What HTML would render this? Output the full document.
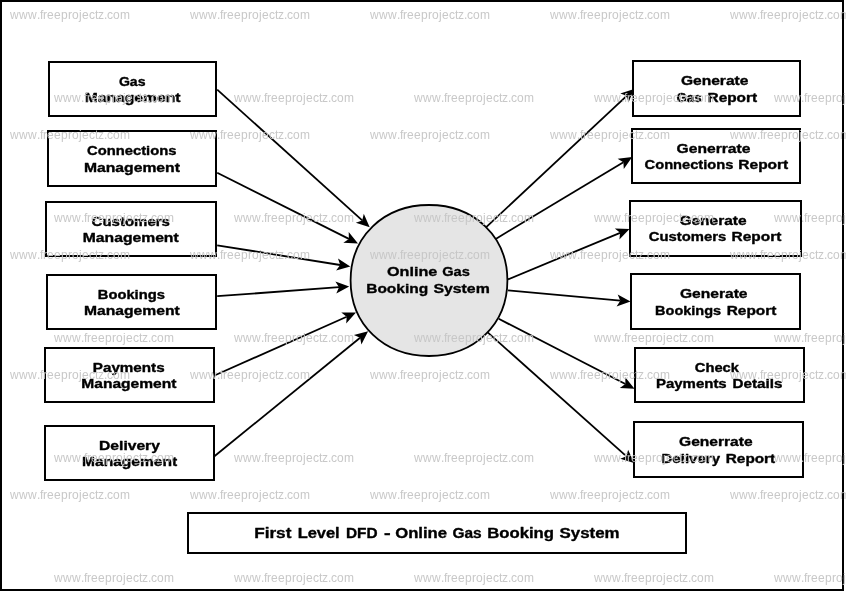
<!DOCTYPE html>
<html><head><meta charset="utf-8"><title>First Level DFD - Online Gas Booking System</title>
<style>html,body{margin:0;padding:0;background:#fff;}body{width:846px;height:593px;overflow:hidden;}svg{display:block;font-family:"Liberation Sans",sans-serif;}</style></head><body>
<svg width="846" height="593" viewBox="0 0 846 593">
<rect x="0" y="0" width="846" height="593" fill="#fff"/>
<rect x="1" y="1" width="842" height="589" fill="none" stroke="#000" stroke-width="2"/>
<rect x="49.0" y="62.0" width="167.0" height="54.0" fill="#fff" stroke="#000" stroke-width="2"/>
<rect x="48.0" y="131.0" width="168.0" height="55.0" fill="#fff" stroke="#000" stroke-width="2"/>
<rect x="46.0" y="202.0" width="170.0" height="54.0" fill="#fff" stroke="#000" stroke-width="2"/>
<rect x="47.0" y="275.0" width="169.0" height="54.0" fill="#fff" stroke="#000" stroke-width="2"/>
<rect x="45.0" y="348.0" width="169.0" height="54.0" fill="#fff" stroke="#000" stroke-width="2"/>
<rect x="45.0" y="426.0" width="169.0" height="54.0" fill="#fff" stroke="#000" stroke-width="2"/>
<rect x="633.0" y="61.0" width="167.0" height="55.0" fill="#fff" stroke="#000" stroke-width="2"/>
<rect x="632.0" y="129.0" width="168.0" height="54.0" fill="#fff" stroke="#000" stroke-width="2"/>
<rect x="630.0" y="201.0" width="171.0" height="55.0" fill="#fff" stroke="#000" stroke-width="2"/>
<rect x="631.0" y="274.0" width="169.0" height="55.0" fill="#fff" stroke="#000" stroke-width="2"/>
<rect x="635.0" y="348.0" width="169.0" height="54.0" fill="#fff" stroke="#000" stroke-width="2"/>
<rect x="634.0" y="422.0" width="169.0" height="55.0" fill="#fff" stroke="#000" stroke-width="2"/>
<rect x="188.0" y="513.0" width="498.0" height="40.0" fill="#fff" stroke="#000" stroke-width="2"/>
<line x1="217.2" y1="89.6" x2="362.2" y2="220.4" stroke="#000" stroke-width="1.8"/>
<polygon points="369.7,227.2 355.8,222.7 362.2,220.4 363.8,213.8" fill="#000"/>
<line x1="217.2" y1="172.8" x2="348.9" y2="238.9" stroke="#000" stroke-width="1.8"/>
<polygon points="358.0,243.5 343.3,242.8 348.9,238.9 348.7,232.1" fill="#000"/>
<line x1="217.2" y1="245.3" x2="340.2" y2="265.0" stroke="#000" stroke-width="1.8"/>
<polygon points="350.3,266.6 336.1,270.4 340.2,265.0 338.0,258.6" fill="#000"/>
<line x1="217.2" y1="296.2" x2="339.0" y2="287.2" stroke="#000" stroke-width="1.8"/>
<polygon points="349.2,286.5 336.3,293.5 339.0,287.2 335.4,281.5" fill="#000"/>
<line x1="215.0" y1="375.3" x2="346.7" y2="316.8" stroke="#000" stroke-width="1.8"/>
<polygon points="356.0,312.6 346.2,323.5 346.7,316.8 341.3,312.6" fill="#000"/>
<line x1="213.5" y1="457.0" x2="360.1" y2="337.7" stroke="#000" stroke-width="1.8"/>
<polygon points="368.1,331.3 361.4,344.4 360.1,337.7 353.9,335.1" fill="#000"/>
<line x1="486.2" y1="227.1" x2="626.7" y2="95.8" stroke="#000" stroke-width="1.8"/>
<polygon points="634.1,88.9 628.5,102.4 626.7,95.8 620.3,93.6" fill="#000"/>
<line x1="495.7" y1="238.9" x2="623.4" y2="162.2" stroke="#000" stroke-width="1.8"/>
<polygon points="632.2,156.9 623.8,168.9 623.4,162.2 617.6,158.7" fill="#000"/>
<line x1="508.0" y1="279.4" x2="620.1" y2="232.8" stroke="#000" stroke-width="1.8"/>
<polygon points="629.5,228.9 619.4,239.6 620.1,232.8 614.8,228.5" fill="#000"/>
<line x1="508.0" y1="290.4" x2="620.3" y2="300.7" stroke="#000" stroke-width="1.8"/>
<polygon points="630.5,301.6 616.6,306.4 620.3,300.7 617.7,294.4" fill="#000"/>
<line x1="498.7" y1="318.8" x2="625.4" y2="384.0" stroke="#000" stroke-width="1.8"/>
<polygon points="634.5,388.7 619.8,387.9 625.4,384.0 625.3,377.2" fill="#000"/>
<line x1="487.4" y1="332.2" x2="626.5" y2="456.3" stroke="#000" stroke-width="1.8"/>
<polygon points="634.1,463.1 620.2,458.7 626.5,456.3 628.1,449.7" fill="#000"/>
<path d="M507.40,280.50 C507.40,324.29 474.47,356.00 429.00,356.00 C383.53,356.00 350.60,324.29 350.60,280.50 C350.60,236.71 383.53,205.00 429.00,205.00 C474.47,205.00 507.40,236.71 507.40,280.50 Z" fill="#e5e5e5" stroke="#000" stroke-width="1.8"/>
<g filter="url(#n)" font-weight="bold" fill="#000" stroke="#000" stroke-width="0.35" stroke-linejoin="round">
<text x="118.9" y="85.6" font-size="12.0" textLength="26.6" lengthAdjust="spacingAndGlyphs">Gas</text>
<text x="84.7" y="101.8" font-size="12.0" textLength="95.9" lengthAdjust="spacingAndGlyphs">Management</text>
<text x="87.0" y="154.8" font-size="12.0" textLength="89.4" lengthAdjust="spacingAndGlyphs">Connections</text>
<text x="84.0" y="172.0" font-size="12.0" textLength="95.9" lengthAdjust="spacingAndGlyphs">Management</text>
<text x="91.6" y="226.3" font-size="12.0" textLength="78.3" lengthAdjust="spacingAndGlyphs">Customers</text>
<text x="82.8" y="242.1" font-size="12.0" textLength="95.9" lengthAdjust="spacingAndGlyphs">Management</text>
<text x="97.8" y="299.0" font-size="12.0" textLength="67.1" lengthAdjust="spacingAndGlyphs">Bookings</text>
<text x="84.0" y="315.0" font-size="12.0" textLength="95.7" lengthAdjust="spacingAndGlyphs">Management</text>
<text x="92.8" y="371.8" font-size="12.0" textLength="71.8" lengthAdjust="spacingAndGlyphs">Payments</text>
<text x="81.3" y="387.9" font-size="12.0" textLength="95.1" lengthAdjust="spacingAndGlyphs">Management</text>
<text x="99.1" y="450.3" font-size="12.0" textLength="60.8" lengthAdjust="spacingAndGlyphs">Delivery</text>
<text x="82.0" y="466.0" font-size="12.0" textLength="95.2" lengthAdjust="spacingAndGlyphs">Management</text>
<text x="680.9" y="84.9" font-size="12.0" textLength="67.5" lengthAdjust="spacingAndGlyphs">Generate</text>
<text x="676.5" y="101.7" font-size="12.0" textLength="25.1" lengthAdjust="spacingAndGlyphs">Gas</text>
<text x="707.6" y="101.7" font-size="12.0" textLength="49.5" lengthAdjust="spacingAndGlyphs">Report</text>
<text x="676.6" y="152.8" font-size="12.0" textLength="73.8" lengthAdjust="spacingAndGlyphs">Generrate</text>
<text x="644.6" y="169.0" font-size="12.0" textLength="88.8" lengthAdjust="spacingAndGlyphs">Connections</text>
<text x="738.3" y="169.0" font-size="12.0" textLength="50.0" lengthAdjust="spacingAndGlyphs">Report</text>
<text x="679.4" y="224.8" font-size="12.0" textLength="67.2" lengthAdjust="spacingAndGlyphs">Generate</text>
<text x="648.8" y="241.0" font-size="12.0" textLength="77.4" lengthAdjust="spacingAndGlyphs">Customers</text>
<text x="731.6" y="241.0" font-size="12.0" textLength="49.7" lengthAdjust="spacingAndGlyphs">Report</text>
<text x="680.0" y="297.8" font-size="12.0" textLength="67.5" lengthAdjust="spacingAndGlyphs">Generate</text>
<text x="655.1" y="314.7" font-size="12.0" textLength="66.0" lengthAdjust="spacingAndGlyphs">Bookings</text>
<text x="726.7" y="314.7" font-size="12.0" textLength="49.7" lengthAdjust="spacingAndGlyphs">Report</text>
<text x="694.8" y="371.7" font-size="12.0" textLength="44.2" lengthAdjust="spacingAndGlyphs">Check</text>
<text x="656.0" y="387.6" font-size="12.0" textLength="70.7" lengthAdjust="spacingAndGlyphs">Payments</text>
<text x="732.6" y="387.6" font-size="12.0" textLength="49.9" lengthAdjust="spacingAndGlyphs">Details</text>
<text x="679.1" y="445.5" font-size="12.0" textLength="73.5" lengthAdjust="spacingAndGlyphs">Generrate</text>
<text x="661.5" y="462.6" font-size="12.0" textLength="58.5" lengthAdjust="spacingAndGlyphs">Delivery</text>
<text x="725.8" y="462.6" font-size="12.0" textLength="49.4" lengthAdjust="spacingAndGlyphs">Report</text>
<text x="387.0" y="275.7" font-size="13.7" textLength="50.3" lengthAdjust="spacingAndGlyphs">Online</text>
<text x="442.2" y="275.7" font-size="13.7" textLength="27.6" lengthAdjust="spacingAndGlyphs">Gas</text>
<text x="366.2" y="292.6" font-size="13.7" textLength="62.0" lengthAdjust="spacingAndGlyphs">Booking</text>
<text x="433.4" y="292.6" font-size="13.7" textLength="56.4" lengthAdjust="spacingAndGlyphs">System</text>
<text x="254.2" y="537.7" font-size="14.0" textLength="37.2" lengthAdjust="spacingAndGlyphs">First</text>
<text x="297.7" y="537.7" font-size="14.0" textLength="42.0" lengthAdjust="spacingAndGlyphs">Level</text>
<text x="346.0" y="537.7" font-size="14.0" textLength="31.6" lengthAdjust="spacingAndGlyphs">DFD</text>
<text x="384.1" y="537.7" font-size="14.0" textLength="6.6" lengthAdjust="spacingAndGlyphs">-</text>
<text x="395.2" y="537.7" font-size="14.0" textLength="51.8" lengthAdjust="spacingAndGlyphs">Online</text>
<text x="452.4" y="537.7" font-size="14.0" textLength="29.2" lengthAdjust="spacingAndGlyphs">Gas</text>
<text x="487.3" y="537.7" font-size="14.0" textLength="66.7" lengthAdjust="spacingAndGlyphs">Booking</text>
<text x="559.6" y="537.7" font-size="14.0" textLength="60.0" lengthAdjust="spacingAndGlyphs">System</text>
</g>
<defs><filter id="b" x="-5%" y="-5%" width="110%" height="110%"><feGaussianBlur stdDeviation="0.35"/></filter><filter id="n" x="0" y="0" width="100%" height="100%" filterUnits="userSpaceOnUse"><feOffset dx="0" dy="0"/></filter>
<text id="w" x="0 9 18 27 30 33 37 44 51 58 62 69 72 79 85 88 94 97 103 110" y="0">www.freeprojectz.com</text></defs>
<g><g filter="url(#b)" font-size="12" fill="#c5c5c5" fill-opacity="0.95">
<use href="#w" x="10" y="19"/>
<use href="#w" x="54" y="101.7"/>
<use href="#w" x="190" y="19"/>
<use href="#w" x="234" y="101.7"/>
<use href="#w" x="370" y="19"/>
<use href="#w" x="414" y="101.7"/>
<use href="#w" x="550" y="19"/>
<use href="#w" x="594" y="101.7"/>
<use href="#w" x="730" y="19"/>
<use href="#w" x="774" y="101.7"/>
<use href="#w" x="10" y="139"/>
<use href="#w" x="54" y="221.7"/>
<use href="#w" x="190" y="139"/>
<use href="#w" x="234" y="221.7"/>
<use href="#w" x="370" y="139"/>
<use href="#w" x="414" y="221.7"/>
<use href="#w" x="550" y="139"/>
<use href="#w" x="594" y="221.7"/>
<use href="#w" x="730" y="139"/>
<use href="#w" x="774" y="221.7"/>
<use href="#w" x="10" y="259"/>
<use href="#w" x="54" y="341.7"/>
<use href="#w" x="190" y="259"/>
<use href="#w" x="234" y="341.7"/>
<use href="#w" x="370" y="259"/>
<use href="#w" x="414" y="341.7"/>
<use href="#w" x="550" y="259"/>
<use href="#w" x="594" y="341.7"/>
<use href="#w" x="730" y="259"/>
<use href="#w" x="774" y="341.7"/>
<use href="#w" x="10" y="379"/>
<use href="#w" x="54" y="461.7"/>
<use href="#w" x="190" y="379"/>
<use href="#w" x="234" y="461.7"/>
<use href="#w" x="370" y="379"/>
<use href="#w" x="414" y="461.7"/>
<use href="#w" x="550" y="379"/>
<use href="#w" x="594" y="461.7"/>
<use href="#w" x="730" y="379"/>
<use href="#w" x="774" y="461.7"/>
<use href="#w" x="10" y="499"/>
<use href="#w" x="54" y="581.7"/>
<use href="#w" x="190" y="499"/>
<use href="#w" x="234" y="581.7"/>
<use href="#w" x="370" y="499"/>
<use href="#w" x="414" y="581.7"/>
<use href="#w" x="550" y="499"/>
<use href="#w" x="594" y="581.7"/>
<use href="#w" x="730" y="499"/>
<use href="#w" x="774" y="581.7"/>
</g></g>
</svg></body></html>
